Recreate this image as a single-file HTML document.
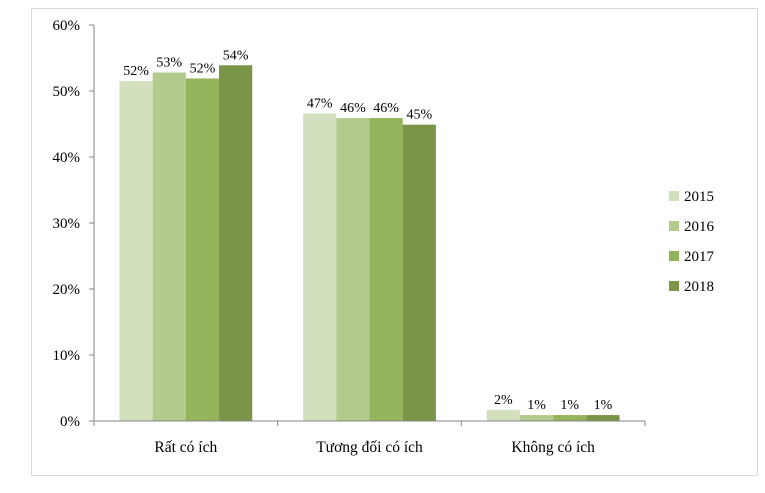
<!DOCTYPE html>
<html><head><meta charset="utf-8"><style>
body{margin:0;background:#fff;}
svg{display:block;font-family:"Liberation Serif","DejaVu Serif",serif;}
</style></head><body>
<svg id="chart" width="765" height="493"></svg>
<script>
const categories=["Rất có ích","Tương đối có ích","Không có ích"];
const years=["2015","2016","2017","2018"];
const s2015=[51.5,46.6,1.7];
const s2016=[52.8,45.9,0.9];
const s2017=[51.9,45.9,0.9];
const s2018=[53.9,44.9,0.9];
const labels2015=["52%","47%","2%"];
const labels2016=["53%","46%","1%"];
const labels2017=["52%","46%","1%"];
const labels2018=["54%","45%","1%"];
const yTicks=[0,10,20,30,40,50,60];
const colors=["#d2e0bd","#b2cb8c","#94b45c","#7b9548"];
const series=[s2015,s2016,s2017,s2018];
const labs=[labels2015,labels2016,labels2017,labels2018];
const NS="http://www.w3.org/2000/svg";
const svg=document.getElementById('chart');
function el(t,a,p){const e=document.createElementNS(NS,t);for(const k in a)e.setAttribute(k,a[k]);(p||svg).appendChild(e);return e;}
const x0=94,x1=645,yb=421,yt=25;
const y=v=>yb-(v/60)*(yb-yt);
const catW=(x1-x0)/categories.length;
const barW=33.2;
const frame=el('rect',{x:31.5,y:8.5,width:726,height:467,fill:'none',stroke:'#d9d9d9'});


yTicks.forEach(t=>{
  const l=el('line',{x1:89,x2:x0,y1:y(t),y2:y(t),stroke:'#868686'});
  
  
  const tx=el('text',{x:80,y:y(t)+5,'text-anchor':'end','font-size':15,fill:'#000'});
  tx.textContent=t+'%';
  
  
});
const ya=el('line',{x1:x0,x2:x0,y1:yt,y2:yb,stroke:'#868686'});


categories.forEach((c,i)=>{
  const cx=x0+catW*(i+0.5);
  const gx=cx-barW*2;
  series.forEach((s,j)=>{
    const bx=gx+barW*j;
    const r=el('rect',{x:bx,y:y(s[i]),width:barW,height:yb-y(s[i]),fill:colors[j]});
    
    
    const t=el('text',{x:bx+barW/2,y:y(s[i])-6,'text-anchor':'middle','font-size':14,fill:'#000'});
    t.textContent=labs[j][i];
    
    
  });
  const ct=el('text',{x:cx,y:452,'text-anchor':'middle','font-size':15.5,fill:'#000'});
  ct.textContent=c;
  
  
});
for(let i=0;i<=categories.length;i++){
  const tk=el('line',{x1:x0+catW*i,x2:x0+catW*i,y1:yb,y2:yb+5,stroke:'#868686'});
  
  
}
const xa=el('line',{x1:x0,x2:x1,y1:yb,y2:yb,stroke:'#868686'});


years.forEach((yr,j)=>{
  const ly=196+30*j;
  const sw=el('rect',{x:669,y:ly-5,width:10,height:10,fill:colors[j]});
  
  
  const lt=el('text',{x:684,y:ly+5,'font-size':15,fill:'#000'});
  lt.textContent=yr;
  
  
});
</script>
</body></html>
